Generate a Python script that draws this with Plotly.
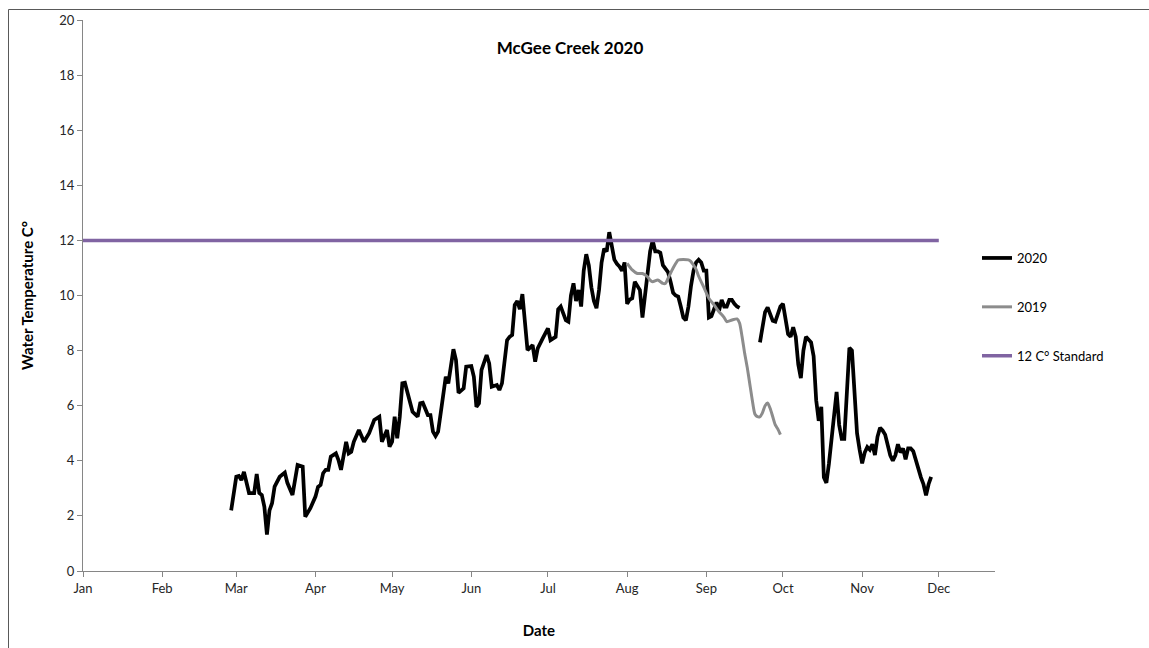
import pandas as pd
import plotly.graph_objects as go

# Day-of-year (0 = Jan 1) and daily water temperature, 2020 record
doy_2020_a = [58, 60, 61, 62, 63, 64, 65, 67, 68, 69, 70, 71, 72, 73, 74, 75, 77, 79, 80, 82,
              83, 84, 86, 87, 89, 91, 92, 93, 94, 95, 96, 97, 99, 100, 101, 102, 103, 104, 105, 106,
              108, 110, 111, 112, 114, 116, 117, 119, 120, 121, 122, 123, 124, 125, 126, 128, 129, 131, 132, 133,
              135, 136, 137, 138, 139, 140, 141, 142, 143, 145, 146, 147, 149, 150, 152, 153, 154, 155, 156, 158,
              159, 160, 162, 163, 164, 166, 167, 168, 169, 170, 171, 172, 174, 176, 177, 178, 180, 182, 183, 185,
              186, 187, 188, 189, 190, 191, 192, 193, 194, 195, 196, 197, 198, 199, 200, 201, 202, 203, 204, 205,
              206, 207, 208, 209, 210, 211, 212, 213, 214, 215, 216, 217, 218, 219, 220, 221, 222, 223, 224, 225,
              226, 227, 228, 229, 230, 231, 232, 233, 234, 235, 236, 237, 238, 239, 240, 241, 242, 243, 244, 245,
              246, 247, 248, 249, 250, 251, 252, 253, 254, 255, 256, 257]
temp_2020_a = [2.2, 3.42, 3.45, 3.3, 3.6, 3.2, 2.83, 2.83, 3.52, 2.83, 2.76, 2.33, 1.32, 2.2, 2.46, 3.06, 3.42, 3.57, 3.2, 2.76,
               3.3, 3.85, 3.79, 1.97, 2.28, 2.7, 3.05, 3.12, 3.55, 3.67, 3.67, 4.15, 4.27, 4.03, 3.67, 4.27, 4.69, 4.27, 4.33, 4.69,
               5.12, 4.69, 4.87, 5.0, 5.48, 5.6, 4.69, 5.12, 4.51, 4.69, 5.6, 4.82, 5.6, 6.81, 6.83, 6.09, 5.78, 5.6, 6.09, 6.11,
               5.66, 5.66, 5.06, 4.9, 5.06, 5.72, 6.45, 7.05, 6.81, 8.05, 7.66, 6.47, 6.63, 7.42, 7.44, 7.05, 5.96, 6.09, 7.3, 7.84,
               7.54, 6.69, 6.75, 6.57, 6.81, 8.38, 8.5, 8.57, 9.66, 9.8, 9.5, 10.05, 8.02, 8.2, 7.6, 8.08, 8.45, 8.81, 8.38, 8.5,
               9.5, 9.6, 9.35, 9.1, 9.05, 10.0, 10.44, 9.8, 10.2, 9.6, 10.9, 11.5, 11.1, 10.3, 9.8, 9.54, 10.2, 11.2, 11.7, 11.6,
               12.3, 11.8, 11.3, 11.15, 11.05, 10.9, 11.2, 9.7, 9.85, 9.9, 10.5, 10.35, 10.2, 9.2, 10.0, 10.9, 11.6, 12.0, 11.6, 11.6,
               11.55, 11.1, 10.95, 10.85, 10.5, 10.1, 10.0, 9.96, 9.6, 9.2, 9.1, 9.6, 10.35, 10.9, 11.2, 11.3, 11.2, 10.9, 10.9, 9.2,
               9.25, 9.5, 9.75, 9.45, 9.84, 9.6, 9.6, 9.84, 9.84, 9.7, 9.6, 9.55]

doy_2020_b = [265, 266, 267, 268, 269, 270, 271, 272, 273, 274, 275, 276, 277, 278, 279, 280, 281, 282, 283, 284,
              285, 286, 287, 288, 289, 290, 291, 292, 293, 294, 295, 296, 297, 298, 299, 300, 301, 302, 303, 304,
              305, 306, 307, 308, 309, 310, 311, 312, 313, 314, 315, 316, 317, 318, 319, 320, 321, 322, 323, 324,
              325, 326, 327, 328, 329, 330, 331, 332]
temp_2020_b = [8.3, 8.9, 9.4, 9.57, 9.3, 9.08, 9.05, 9.3, 9.6, 9.7, 9.23, 8.6, 8.5, 8.85, 8.5, 7.5, 7.0, 8.0, 8.5, 8.4,
               8.3, 7.8, 6.2, 5.45, 5.96, 3.4, 3.2, 3.9, 4.8, 5.7, 6.5, 5.3, 4.8, 4.8, 6.8, 8.1, 8.0, 6.6, 5.0, 4.4,
               3.91, 4.3, 4.5, 4.4, 4.6, 4.21, 4.87, 5.2, 5.1, 4.95, 4.6, 4.2, 4.0, 4.2, 4.6, 4.3, 4.45, 4.05, 4.45, 4.45,
               4.35, 4.0, 3.7, 3.4, 3.15, 2.75, 3.15, 3.42]

# 2019 record, shown on the same calendar
doy_2019 = [213, 215, 217, 219, 221, 222, 223, 225, 227, 228, 229, 231, 233, 235, 237, 238, 239, 240, 241, 243,
            245, 247, 249, 251, 252, 254, 256, 257, 258, 259, 260, 261, 262, 263, 264, 265, 266, 267, 268, 269,
            270, 271, 272, 273]
temp_2019 = [11.17, 10.93, 10.8, 10.8, 10.68, 10.56, 10.5, 10.56, 10.44, 10.44, 10.62, 11.0, 11.29, 11.31, 11.29, 11.23, 11.1, 10.95, 10.7, 10.3,
             9.9, 9.66, 9.41, 9.2, 9.05, 9.11, 9.15, 9.0, 8.5, 7.9, 7.4, 6.8, 6.2, 5.7, 5.6, 5.6, 5.75, 6.0, 6.1, 5.9,
             5.6, 5.3, 5.15, 4.95]

# 12 °C water-quality standard
doy_standard = [0, 335]
temp_standard = [12, 12]

YEAR_START = pd.Timestamp("2020-01-01")


def to_dates(days):
    return YEAR_START + pd.to_timedelta(days, unit="D")


# Series 2020 has a gap in September; join the two runs with a None break
x_2020 = list(to_dates(doy_2020_a)) + [None] + list(to_dates(doy_2020_b))
y_2020 = temp_2020_a + [None] + temp_2020_b

W, H = 1149, 648
ML, MR, MT, MB = 83, 154, 20, 77
PW, PH = W - ML - MR, H - MT - MB

FONT = "Lato, Open Sans, sans-serif"
AXIS_GREY = "#868686"

fig = go.Figure()
fig.add_trace(go.Scatter(x=x_2020, y=y_2020, mode="lines", name="2020",
                         line=dict(color="#000000", width=3.75), connectgaps=False,
                         legendgroup="a"))
fig.add_trace(go.Scatter(x=to_dates(doy_2019), y=temp_2019, mode="lines", name="2019",
                         line=dict(color="#8c8c8c", width=3, shape="spline", smoothing=0.6),
                         legendgroup="b"))
fig.add_trace(go.Scatter(x=to_dates(doy_standard), y=temp_standard, mode="lines",
                         name="12 C° Standard", line=dict(color="#8064A2", width=3.5),
                         legendgroup="c"))


def px_x(p):
    return (p - ML) / PW


def px_y(p):
    return (H - MB - p) / PH


fig.update_layout(
    width=W, height=H,
    margin=dict(l=ML, r=MR, t=MT, b=MB, autoexpand=False),
    paper_bgcolor="white", plot_bgcolor="white",
    font=dict(family=FONT, size=13, color="#262626"),
    title=dict(text="<b>McGee Creek 2020</b>", x=570 / W, xref="container", xanchor="center",
               y=1 - 48 / H, yref="container", yanchor="middle",
               font=dict(family=FONT, size=17, color="#000000")),
    showlegend=True,
    legend=dict(x=px_x(977), y=px_y(243), xanchor="left", yanchor="top",
                traceorder="grouped", tracegroupgap=29,
                font=dict(family=FONT, size=13, color="#000000"),
                bgcolor="rgba(0,0,0,0)"),
    xaxis=dict(
        range=[YEAR_START, to_dates([357])[0]],
        tickformat="%b", dtick="M1", tick0="2020-01-01",
        ticks="outside", ticklen=5, tickcolor=AXIS_GREY,
        showline=True, linecolor=AXIS_GREY, linewidth=1,
        showgrid=False, zeroline=False, automargin=False,
        tickfont=dict(family=FONT, size=13, color="#262626"),
        title=dict(text="<b>Date</b>", standoff=30,
                   font=dict(family=FONT, size=15, color="#000000")),
    ),
    yaxis=dict(
        range=[0, 20], dtick=2, tick0=0,
        ticks="outside", ticklen=5, tickcolor=AXIS_GREY,
        showline=True, linecolor=AXIS_GREY, linewidth=1,
        showgrid=False, zeroline=False, automargin=False,
        tickfont=dict(family=FONT, size=13, color="#262626"),
        title=dict(text="<b>Water Temperature C°</b>", standoff=22,
                   font=dict(family=FONT, size=15, color="#000000")),
    ),
    shapes=[
        # chart frame
        dict(type="rect", xref="paper", yref="paper",
             x0=px_x(8.5), x1=px_x(1200), y0=px_y(700), y1=px_y(9.5),
             line=dict(color="#595959", width=1), fillcolor="rgba(0,0,0,0)", layer="below"),
    ],
)

fig.write_html("out.html")
